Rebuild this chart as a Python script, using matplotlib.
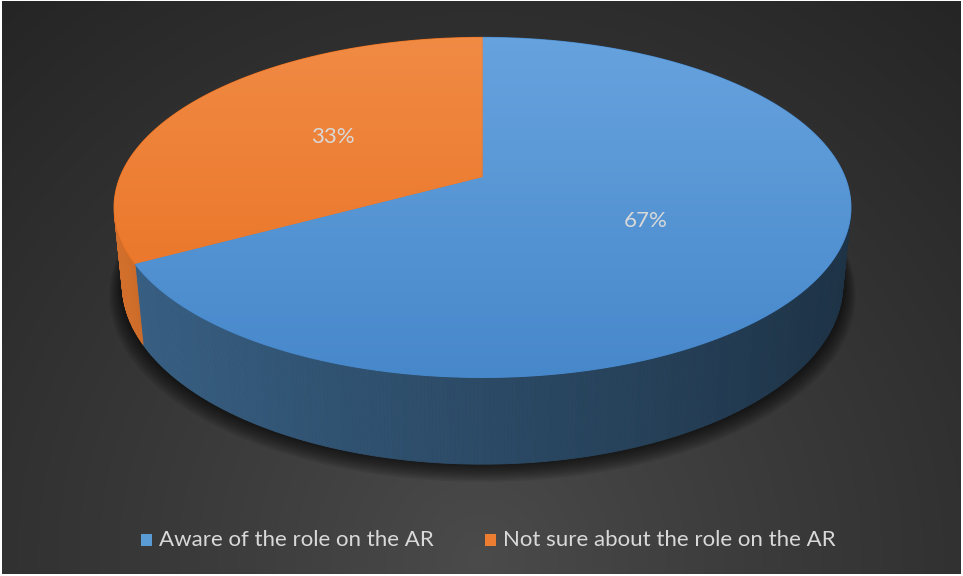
import numpy as np
import matplotlib
matplotlib.use("Agg")
import matplotlib.pyplot as plt
from matplotlib.patches import Polygon, Rectangle
from matplotlib.colors import to_rgb

# ---- data ----
categories = ["Aware of the role on the AR", "Not sure about the role on the AR"]
values = [67, 33]
labels = ["67%", "33%"]
top_colors_light = ["#67a3de", "#f18b45"]
top_colors_dark = ["#4788cb", "#e86f1f"]
base_colors = ["#5b9bd5", "#ed7d31"]
wall_gain = [1.0, 1.4]

W, H = 963, 576
fig = plt.figure(figsize=(W / 100, H / 100), dpi=100)
fig.patch.set_facecolor("white")
ax = fig.add_axes([0, 0, 1, 1])
ax.set_xlim(0, W)
ax.set_ylim(H, 0)
ax.axis("off")

# ---- background radial gradient ----
yy, xx = np.mgrid[0:H, 0:W]
d = np.sqrt((xx - 480) ** 2 + (yy - 560) ** 2)
t = np.clip(d / 740.0, 0, 1) ** 0.9
v = (0x4b - (0x4b - 0x25) * t) / 255.0
bg = np.dstack([v, v, v])
ax.imshow(bg, extent=[2, W - 2, H - 2, 1], zorder=0, interpolation="bilinear")

# ---- 3D projection ----
alpha = np.radians(27)
s, c = np.sin(alpha), np.cos(alpha)
k = 4.98
f = 1805.0
cx, cy = 482.5, 177.0
h = 0.24


def proj(x, y, z):
    depth = k - (y * s + z * c)
    up = y * c - z * s
    return cx + f * x / depth, cy - f * up / depth


def circ(theta, y, r=1.0):
    return proj(r * np.sin(theta), y, -r * np.cos(theta))


total = float(sum(values))
bounds = np.concatenate([[0], np.cumsum(values)]) / total * 2 * np.pi

# ---- shadow ----
th = np.linspace(0, 2 * np.pi, 400)
bx, by = circ(th, -h)
for i in range(10):
    sc = 1.0 + 0.004 * i
    px = cx + (bx - cx) * sc
    py = cy + (by - cy) * sc + 2 + 0.6 * i
    ax.add_patch(Polygon(np.column_stack([px, py]), closed=True,
                         facecolor="black", edgecolor="none", alpha=0.08, zorder=1))

# ---- walls ----
vis_lo = np.arccos(-1.0 / (k * c))
vis_hi = 2 * np.pi - vis_lo
for i, val in enumerate(values):
    a0, a1 = max(bounds[i], vis_lo), min(bounds[i + 1], vis_hi)
    if a1 <= a0:
        continue
    n = max(int((a1 - a0) / np.radians(0.5)), 2)
    edges = np.linspace(a0, a1, n + 1)
    base = np.array(to_rgb(base_colors[i]))
    for j in range(n):
        e0, e1 = edges[j], edges[j + 1]
        mid = 0.5 * (e0 + e1)
        shade = (0.48 - 0.16 * np.sin(mid)) * wall_gain[i]
        col = np.clip(base * shade, 0, 1)
        x0t, y0t = circ(e0, 0)
        x1t, y1t = circ(e1, 0)
        x0b, y0b = circ(e0, -h)
        x1b, y1b = circ(e1, -h)
        poly = [(x0t, y0t), (x1t, y1t), (x1b, y1b), (x0b, y0b)]
        ax.add_patch(Polygon(poly, closed=True, facecolor=col, edgecolor=col,
                             linewidth=0.6, zorder=2))

# ---- top faces ----
gy = np.linspace(0, 1, 256)
for i, val in enumerate(values):
    a0, a1 = bounds[i], bounds[i + 1]
    th = np.linspace(a0, a1, 300)
    px, py = circ(th, 0)
    pts = np.column_stack([np.concatenate([[cx], px]), np.concatenate([[cy], py])])
    solid = Polygon(pts, closed=True, facecolor=top_colors_dark[i],
                    edgecolor=top_colors_dark[i], linewidth=0.8, zorder=3)
    ax.add_patch(solid)
    clip = Polygon(pts, closed=True, facecolor="none", edgecolor="none",
                   transform=ax.transData)
    ax.add_patch(clip)
    c0 = np.array(to_rgb(top_colors_light[i]))
    c1 = np.array(to_rgb(top_colors_dark[i]))
    grad = c0[None, :] * (1 - gy[:, None]) + c1[None, :] * gy[:, None]
    img = ax.imshow(grad[:, None, :].repeat(2, axis=1), extent=[100, 870, 380, 30],
                    zorder=4, interpolation="bilinear", aspect="auto")
    img.set_clip_path(clip)

ax.set_xlim(0, W)
ax.set_ylim(H, 0)

# ---- data labels ----
for i, val in enumerate(values):
    mid = 0.5 * (bounds[i] + bounds[i + 1])
    lx, ly = circ(mid, 0, 0.5)
    ax.text(lx, ly, labels[i], color="#d9d9d9", fontsize=16, family="Lato",
            ha="center", va="center", zorder=6)

# ---- legend ----
leg_sq_x = [141, 485]
leg_tx_x = [159, 503]
leg_y = 540
for i, cat in enumerate(categories):
    ax.add_patch(Rectangle((leg_sq_x[i], leg_y - 6), 11, 12, facecolor=base_colors[i],
                           edgecolor="none", zorder=6))
    ax.text(leg_tx_x[i], leg_y, cat, color="#d9d9d9", fontsize=16, family="Lato",
            ha="left", va="center", zorder=6)

fig.savefig("out.png", dpi=100, facecolor=fig.get_facecolor())
